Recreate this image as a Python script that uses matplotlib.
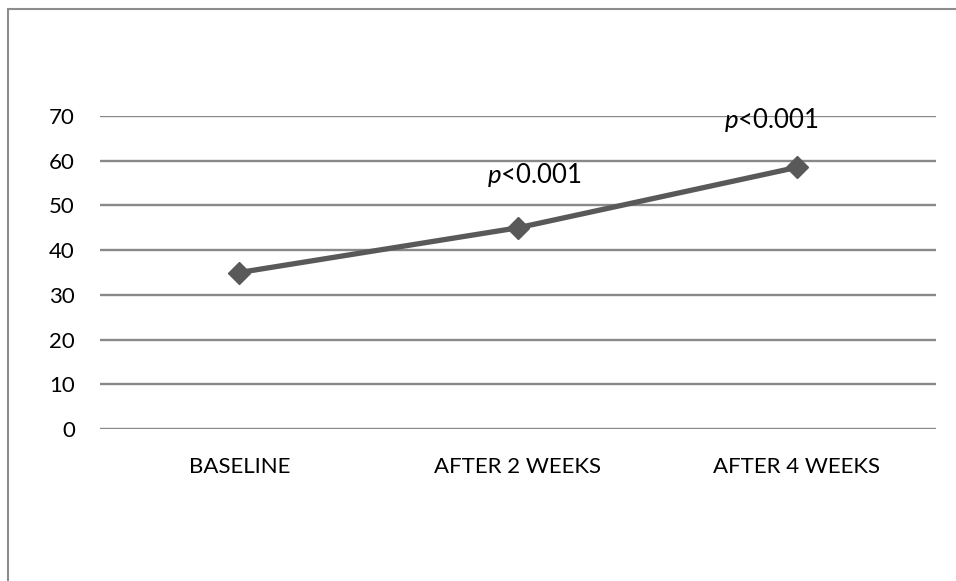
import matplotlib
matplotlib.use("Agg")
from matplotlib import pyplot as plt
from matplotlib.patches import Rectangle

# valores
categorias = ["BASELINE", "AFTER 2 WEEKS", "AFTER 4 WEEKS"]
valores = [35, 45, 58.5]
yticks = [0, 10, 20, 30, 40, 50, 60, 70]
anotacoes = ["$p$<0.001", "$p$<0.001"]
pos_anot = [(1.06, 56.8), (1.91, 69.2)]

plt.rcParams['font.family'] = ['Lato', 'DejaVu Sans']
plt.rcParams['mathtext.fontset'] = 'custom'
plt.rcParams['mathtext.it'] = 'Lato:italic'
plt.rcParams['mathtext.rm'] = 'Lato'

W, H = 956, 581
fig = plt.figure(figsize=(W / 100, H / 100), dpi=100)
ax = fig.add_axes([100 / W, 1 - 429 / H, 836 / W, 313 / H])

x = list(range(len(categorias)))
ax.plot(x, valores, color="#595959", linewidth=3.8, marker="D", markersize=11,
        markerfacecolor="#595959", markeredgecolor="#595959", zorder=3)

for txt, (px, py) in zip(anotacoes, pos_anot):
    ax.text(px, py, txt, ha="center", va="center", fontsize=18.5, color="black")

ax.set_xlim(-0.5, len(categorias) - 0.5)
ax.set_ylim(0, 70)
ax.set_yticks(yticks)
ax.set_xticks(x)
ax.set_xticklabels(categorias)
ax.tick_params(axis="both", length=0, labelsize=16, colors="black")
ax.tick_params(axis="y", pad=18)
ax.tick_params(axis="x", pad=20)
ax.yaxis.grid(True, color="#898989", linewidth=1.7)
ax.set_axisbelow(True)
for s in ax.spines.values():
    s.set_visible(False)

# moldura do grafico
fig.patches.append(Rectangle((8 / W, -0.2), 1.2, 1.2 - 9 / H, transform=fig.transFigure,
                             fill=False, edgecolor="#8c8c8c", linewidth=1.5))

plt.savefig("out.png", dpi=100)
